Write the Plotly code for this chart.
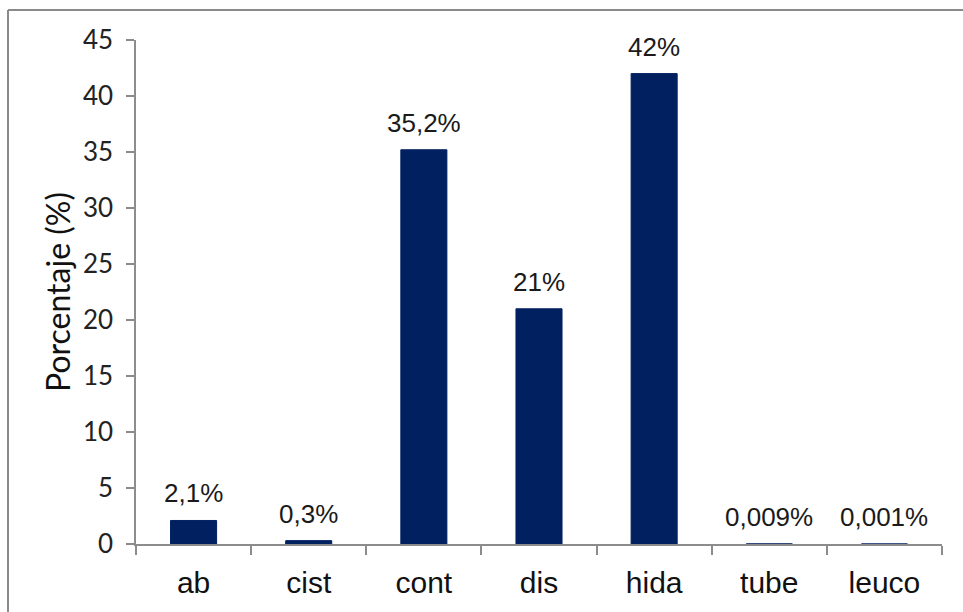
import plotly.graph_objects as go

# Categories and percentages
categories = ["ab", "cist", "cont", "dis", "hida", "tube", "leuco"]
values = [2.1, 0.3, 35.2, 21, 42, 0.009, 0.001]
y_ticks = [0, 5, 10, 15, 20, 25, 30, 35, 40, 45]

labels = [f"{v:g}".replace(".", ",") + "%" for v in values]

W, H = 963, 612
L, R, T, B = 136, 21, 40, 68
pw, ph = W - L - R, H - T - B

bar_color = "#002060"
axis_color = "#8c8c8c"

fig = go.Figure()
fig.add_trace(go.Bar(
    x=categories,
    y=values,
    marker=dict(color=bar_color, line=dict(color=bar_color, width=1)),
    hoverinfo="x+y",
))

# Value labels above each bar
for c, v, t in zip(categories, values, labels):
    fig.add_annotation(
        x=c, y=v, text=t, showarrow=False,
        yanchor="bottom", yshift=10,
        font=dict(family="Liberation Sans, Arial", size=26, color="#1a1a1a"),
    )

def px_x(p):
    return (p - L) / pw

def px_y(p):
    return (H - B - p) / ph

# Chart frame (left and top edges)
fig.add_shape(type="line", xref="paper", yref="paper",
              x0=px_x(8), x1=px_x(8), y0=px_y(10), y1=px_y(615),
              line=dict(color="#8a8a8a", width=2))
fig.add_shape(type="line", xref="paper", yref="paper",
              x0=px_x(8), x1=px_x(965), y0=px_y(10), y1=px_y(10),
              line=dict(color="#8a8a8a", width=2))

fig.update_layout(
    width=W, height=H,
    margin=dict(l=L, r=R, t=T, b=B),
    paper_bgcolor="white",
    plot_bgcolor="white",
    bargap=0.6,
    showlegend=False,
    xaxis=dict(
        type="category",
        showline=True, linecolor=axis_color, linewidth=1.5,
        ticks="outside", tickson="boundaries", ticklen=9,
        tickcolor=axis_color, tickwidth=1.5,
        tickfont=dict(family="Liberation Sans, Arial", size=30, color="#111"),
        ticklabelstandoff=11,
        showgrid=False, zeroline=False,
    ),
    yaxis=dict(
        range=[0, 45],
        tickvals=y_ticks,
        showline=True, linecolor=axis_color, linewidth=1.5,
        ticks="outside", ticklen=8, tickcolor=axis_color, tickwidth=1.5,
        tickfont=dict(family="Lato", size=26, color="#222"),
        ticklabelstandoff=8,
        showgrid=False, zeroline=False,
        title=dict(text="Porcentaje (%)", standoff=3,
                   font=dict(family="Lato", size=32, color="#111")),
    ),
)

fig.write_html("out.html")
